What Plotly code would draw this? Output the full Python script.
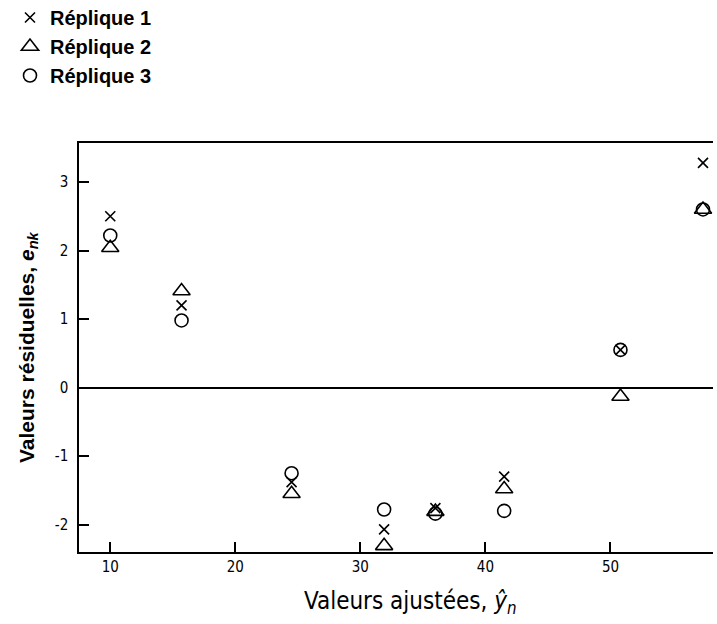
import plotly.graph_objects as go

# Fitted values (x) and residuals for the three replicates
fitted = [10.0, 15.7, 24.5, 31.9, 36.0, 41.5, 50.8, 57.4]
rep1 = [2.5, 1.2, -1.38, -2.07, -1.76, -1.3, 0.55, 3.28]
rep2 = [2.04, 1.41, -1.55, -2.31, -1.81, -1.48, -0.13, 2.6]
rep3 = [2.22, 0.98, -1.25, -1.78, -1.84, -1.8, 0.55, 2.6]

x_ticks = [10, 20, 30, 40, 50]
y_ticks = [3, 2, 1, 0, -1, -2]
y_ticklabels = ["3", "2", "1", "0", "-1", "-2"]

names = ["Réplique 1", "Réplique 2", "Réplique 3"]
x_title = "Valeurs ajustées, <i>ŷ<sub>n</sub></i>"
y_title = "Valeurs résiduelles, <i>e<sub>nk</sub></i>"

W, H = 717, 624
L, R, T, B = 79, 4, 143, 72
pw, ph = W - L - R, H - T - B

fig = go.Figure()
fig.add_trace(go.Scatter(x=fitted, y=rep1, mode="markers", name=names[0],
                         marker=dict(symbol="x-thin-open", size=10, color="black",
                                     line=dict(color="black", width=1.6))))
fig.add_trace(go.Scatter(x=fitted, y=rep2, mode="markers", name=names[1],
                         marker=dict(symbol="triangle-up-open", size=15, color="black",
                                     line=dict(color="black", width=1.6))))
fig.add_trace(go.Scatter(x=fitted, y=rep3, mode="markers", name=names[2],
                         marker=dict(symbol="circle-open", size=13, color="black",
                                     line=dict(color="black", width=1.6))))

cond = "Liberation Sans Narrow, DejaVu Sans Condensed, Liberation Sans, Arial"
tickfont = dict(family=cond, size=15, color="black")

fig.update_layout(
    width=W, height=H,
    margin=dict(l=L, r=R, t=T, b=B, autoexpand=False),
    paper_bgcolor="white", plot_bgcolor="white",
    showlegend=True,
    legend=dict(xref="paper", yref="paper", x=(10 - L) / pw, y=(H - B + 2) / ph,
                xanchor="left", yanchor="top",
                font=dict(family="Liberation Sans, Arial", size=20, color="black", weight="bold"),
                itemwidth=30, bgcolor="rgba(0,0,0,0)"),
    xaxis=dict(range=[7.5, 58.2], tickvals=x_ticks, ticks="inside", ticklen=10, tickwidth=1.5,
               tickcolor="black", showline=True, linecolor="black", linewidth=1.5,
               mirror=True, showgrid=False, zeroline=False, tickfont=tickfont),
    yaxis=dict(range=[-2.4, 3.57], tickvals=y_ticks, ticktext=y_ticklabels, ticks="inside",
               ticklen=10, tickwidth=1.5, tickcolor="black", showline=True, linecolor="black",
               linewidth=1.5, mirror=False, showgrid=False, zeroline=True, zerolinecolor="black",
               zerolinewidth=1.5, tickfont=tickfont, ticklabelstandoff=6),
    annotations=[
        dict(text=x_title, xref="paper", yref="paper", x=(410 - L) / pw, y=-(602 - (H - B)) / ph,
             xanchor="center", yanchor="middle", showarrow=False,
             font=dict(family=cond, size=24, color="black")),
        dict(text=y_title, xref="paper", yref="paper", x=(28 - L) / pw, y=((H - B) - 347) / ph,
             xanchor="center", yanchor="middle", textangle=-90, showarrow=False,
             font=dict(family="Liberation Sans, Arial", size=21, color="black", weight="bold")),
    ],
)

fig.write_html("out.html", config={"displayModeBar": False},
               post_script="document.body.style.margin='0';document.body.style.padding='0';")
